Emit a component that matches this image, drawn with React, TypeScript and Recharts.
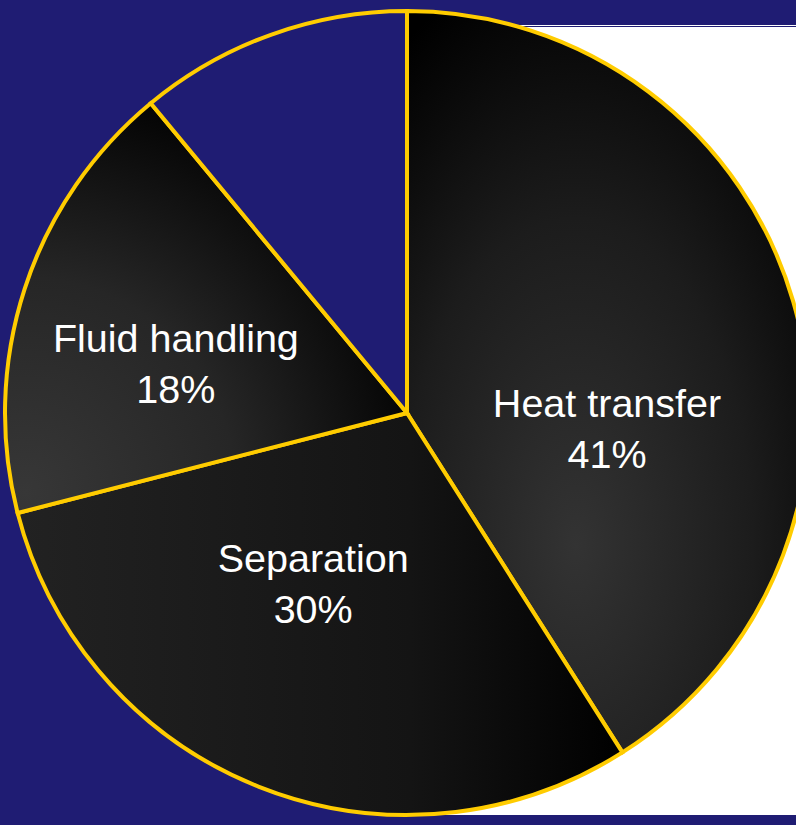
import React from "react"
import { PieChart, Pie, Cell } from "recharts"

const categories = ["Heat transfer", "Separation", "Fluid handling", "Other"]
const shares = [41, 30, 18, 11]

const NAVY = "#1f1c73"
const GOLD = "#ffcc00"
const RAD = Math.PI / 180

// PowerPoint puts its labels a little off the mid angle, so nudge each one
const LABEL_NUDGE = [
  { angle: -20.5, radius: 0.499 },
  { angle: -7.3, radius: 0.483 },
  { angle: 5.9, radius: 0.588 },
]

const fills = ["url(#gHeat)", "url(#gSep)", "url(#gFluid)", NAVY]

const renderLabel = (p: any) => {
  const nudge = LABEL_NUDGE[p.index]
  if (!nudge) return null
  const a = (p.midAngle + nudge.angle) * RAD
  const r = p.outerRadius * nudge.radius
  const x = p.cx + r * Math.cos(a)
  const y = p.cy - r * Math.sin(a)
  return (
    <text
      x={x}
      y={y}
      textAnchor="middle"
      fill="#ffffff"
      fontSize={39.5}
      fontFamily="'Liberation Sans', Arial, sans-serif"
    >
      <tspan x={x} y={y - 11}>
        {p.name}
      </tspan>
      <tspan x={x} y={y + 40}>
        {p.value}%
      </tspan>
    </text>
  )
}

export default function App() {
  const data = categories.map((name, i) => ({ name, value: shares[i] }))

  return (
    <div
      style={{
        position: "fixed",
        left: 0,
        top: 0,
        width: 796,
        height: 825,
        background: NAVY,
        overflow: "hidden",
      }}
    >
      {/* white panel of the slide behind the pie */}
      <div style={{ position: "absolute", left: 440, top: 25, width: 400, height: 1, background: "#fff" }} />
      <div style={{ position: "absolute", left: 440, top: 27, width: 400, height: 788, background: "#fff" }} />
      <div style={{ position: "absolute", left: 0, top: 0 }}>
        <PieChart width={796} height={825} margin={{ top: 0, right: 0, bottom: 0, left: 0 }}>
          <defs>
            <radialGradient id="gHeat" cx="0.42" cy="0.72" r="0.8">
              <stop offset="0" stopColor="#333333" />
              <stop offset="0.55" stopColor="#1c1c1c" />
              <stop offset="1" stopColor="#000000" />
            </radialGradient>
            <linearGradient id="gSep" x1="0" y1="0" x2="1" y2="0">
              <stop offset="0" stopColor="#222222" />
              <stop offset="0.65" stopColor="#141414" />
              <stop offset="1" stopColor="#000000" />
            </linearGradient>
            <radialGradient id="gFluid" cx="0.05" cy="0.95" r="1.05">
              <stop offset="0" stopColor="#373737" />
              <stop offset="0.5" stopColor="#262626" />
              <stop offset="1" stopColor="#000000" />
            </radialGradient>
          </defs>
          <Pie
            data={data}
            dataKey="value"
            nameKey="name"
            cx={407}
            cy={413}
            outerRadius={402}
            startAngle={90}
            endAngle={-270}
            stroke={GOLD}
            strokeWidth={4}
            label={renderLabel}
            labelLine={false}
            isAnimationActive={false}
          >
            {data.map((d, i) => (
              <Cell key={d.name} fill={fills[i]} stroke={GOLD} strokeWidth={4} />
            ))}
          </Pie>
        </PieChart>
      </div>
    </div>
  )
}
